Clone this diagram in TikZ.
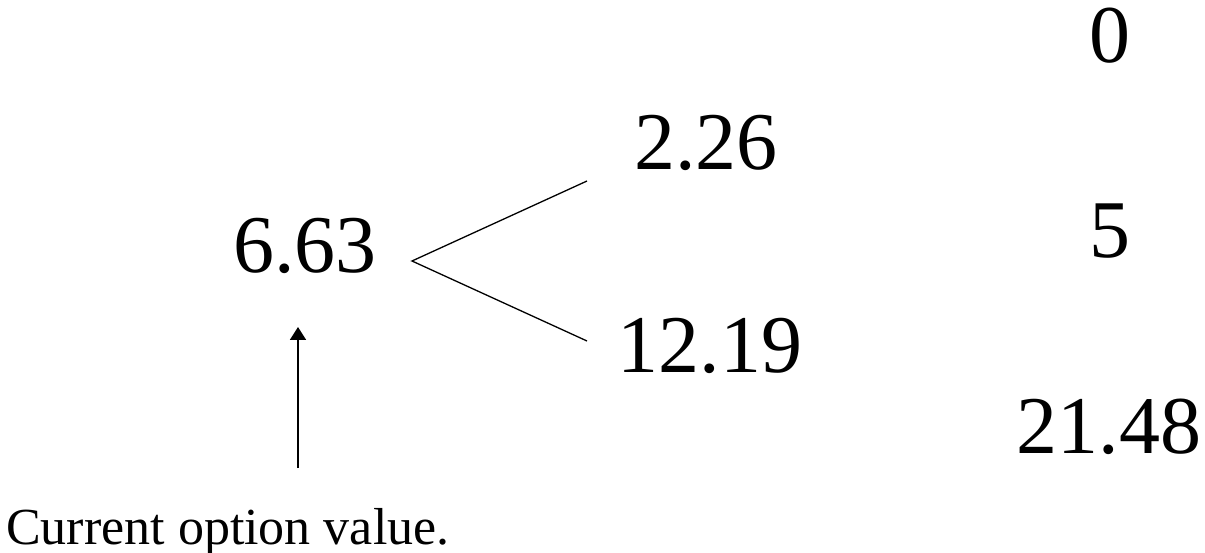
\documentclass[tikz,border=0pt]{standalone}
\usepackage{fontspec}
\setmainfont{Liberation Serif}
\usetikzlibrary{arrows.meta, positioning}

\begin{document}
\begin{tikzpicture}[x=1pt, y=-1pt,
    val/.style={inner sep=0pt, anchor=base, font=\fontsize{82}{90}\selectfont},
    branch/.style={line width=1.3pt},
    pointer/.style={line width=1.8pt, -{Triangle[width=16pt, length=13pt]}}]
    \useasboundingbox (0,0) rectangle (1205,553);

    % Values at each node of the tree
    \node[val] (v0) at (305,273) {6.63};
    \node[val] (up) at (706,170) {2.26};
    \node[val] (dn) at (710,373) {12.19};
    \node[val] (uu) at (1110,63) {0};
    \node[val] (ud) at (1110,258) {5};
    \node[val] (dd) at (1109,453) {21.48};

    % Note under the root
    \node[inner sep=0pt, anchor=base west, font=\fontsize{52}{60}\selectfont] (note) at (6,544) {Current option value.};

    % Branch ends
    \coordinate (fork) at (412,261);
    \coordinate (upend) at (587,181);
    \coordinate (dnend) at (587,341);
    \draw[branch] (upend) -- (fork) -- (dnend);

    % Pointer to the root value
    \coordinate (tail) at (298,468);
    \coordinate (tip) at (298,327);
    \draw[pointer] (tail) -- (tip);
\end{tikzpicture}
\end{document}
